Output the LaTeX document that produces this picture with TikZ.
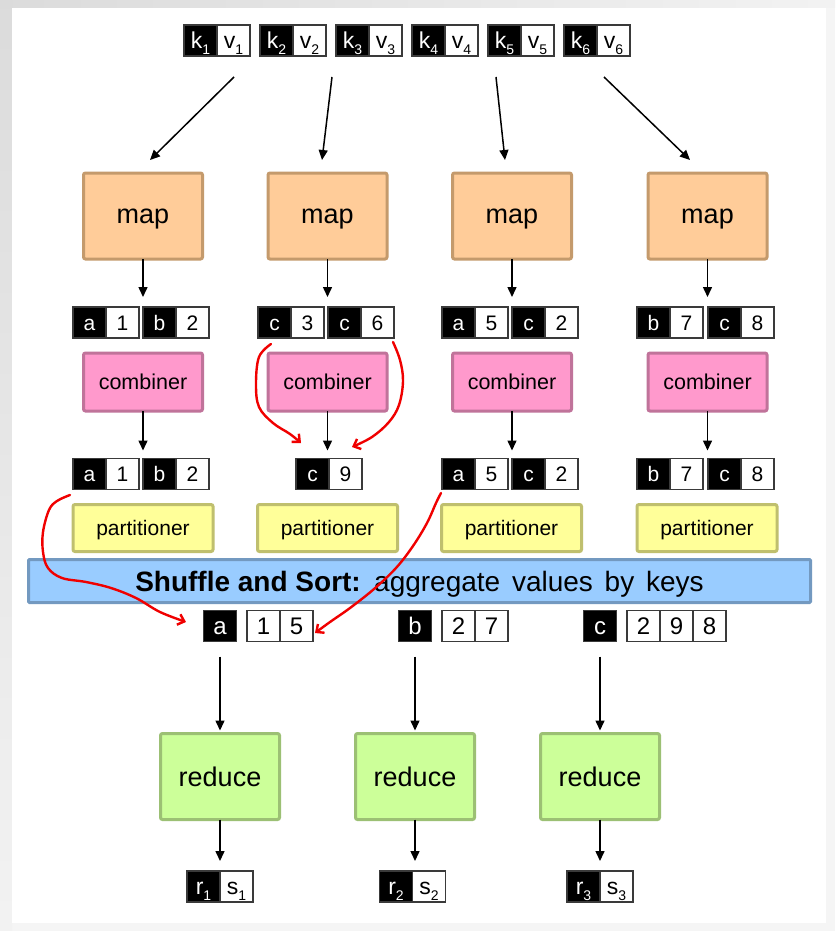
\documentclass[tikz,border=0pt]{standalone}
\usepackage{fontspec}
\setmainfont{Liberation Sans}
\usetikzlibrary{arrows.meta}
\newcommand\myfs[1]{\fontsize{#1}{#1}\selectfont}
\newcommand\subx[1]{\raisebox{-0.25em}{\myfs{14}#1}}
\definecolor{mapfill}{HTML}{FFCC99}\definecolor{mapdraw}{HTML}{C49A6C}
\definecolor{comfill}{HTML}{FF99CC}\definecolor{comdraw}{HTML}{C0739A}
\definecolor{parfill}{HTML}{FFFF99}\definecolor{pardraw}{HTML}{BFBF6E}
\definecolor{shufill}{HTML}{99CCFF}\definecolor{shudraw}{HTML}{7399C0}
\definecolor{redfill}{HTML}{CCFF99}\definecolor{reddraw}{HTML}{9CC074}
\definecolor{celldraw}{HTML}{3A3A3A}
\definecolor{annred}{HTML}{F00000}
\tikzset{
  kc/.style={draw=celldraw, line width=1.2pt, fill=black, text=white, minimum width=33pt, minimum height=31pt, inner sep=0pt, outer sep=0pt},
  vc/.style={draw=celldraw, line width=1.2pt, fill=white, text=black, minimum width=33pt, minimum height=31pt, inner sep=0pt, outer sep=0pt},
  topf/.style={font=\myfs{23}, text height=16.5pt, text depth=0pt},
  pairf/.style={font=\myfs{21}, text height=15pt, text depth=0pt},
  rowf/.style={font=\myfs{24}, text height=17.2pt, text depth=0pt},
  proc/.style={line width=3pt, rounded corners=2pt, inner sep=0pt, outer sep=0pt, text depth=0pt},
  mapbox/.style={proc, fill=mapfill, draw=mapdraw, minimum width=119pt, minimum height=86pt, font=\myfs{27}},
  combox/.style={proc, fill=comfill, draw=comdraw, minimum width=119pt, minimum height=58pt, font=\myfs{21.5}},
  parbox/.style={proc, fill=parfill, draw=pardraw, minimum width=140pt, minimum height=47pt, font=\myfs{21}},
  redbox/.style={proc, fill=redfill, draw=reddraw, minimum width=119pt, minimum height=86pt, font=\myfs{27}},
  arr/.style={draw=black, line width=1.5pt, -{Triangle[length=10pt,width=9pt]}},
  ann/.style={draw=annred, line width=2.4pt, line cap=round, line join=round, -{Straight Barb[length=6pt,width=11pt]}}
}
% name, left x, center y, key, value, text style
\newcommand\kvp[6]{%
  \node[kc,#6,anchor=west] (#1k) at (#2,#3) {#4};
  \node[vc,#6,anchor=west] (#1v) at (#1k.east) {#5};}
\begin{document}
\begin{tikzpicture}[x=1pt,y=-1pt]
\useasboundingbox (0,0) rectangle (835,931);
% frame
\fill[gray!8] (0,0) rectangle (835,931);
\shade[left color=black!14, right color=black!5] (0,0) rectangle (835,8);
\shade[top color=black!14, bottom color=black!5] (0,0) rectangle (12,931);
\fill[white] (12,8) rectangle (826,923);

% input pairs
\kvp{p1}{184}{40.5}{k\subx{1}}{v\subx{1}}{topf}
\kvp{p2}{260}{40.5}{k\subx{2}}{v\subx{2}}{topf}
\kvp{p3}{336}{40.5}{k\subx{3}}{v\subx{3}}{topf}
\kvp{p4}{412}{40.5}{k\subx{4}}{v\subx{4}}{topf}
\kvp{p5}{488}{40.5}{k\subx{5}}{v\subx{5}}{topf}
\kvp{p6}{564}{40.5}{k\subx{6}}{v\subx{6}}{topf}

% maps
\node[mapbox] (map1) at (143,216) {map};
\node[mapbox] (map2) at (327.5,216) {map};
\node[mapbox] (map3) at (512,216) {map};
\node[mapbox] (map4) at (707.5,216) {map};

\coordinate (s1) at (234,77); \coordinate (e1) at (150,160);
\coordinate (s2) at (332,77); \coordinate (e2) at (322,160);
\coordinate (s3) at (496,77); \coordinate (e3) at (505,160);
\coordinate (s4) at (604,77); \coordinate (e4) at (690,160);
\draw[arr] (s1) -- (e1);
\draw[arr] (s2) -- (e2);
\draw[arr] (s3) -- (e3);
\draw[arr] (s4) -- (e4);

% map outputs
\kvp{m1a}{73}{322.5}{a}{1}{pairf}
\kvp{m1b}{143}{322.5}{b}{2}{pairf}
\kvp{m2a}{258}{322.5}{c}{3}{pairf}
\kvp{m2b}{328}{322.5}{c}{6}{pairf}
\kvp{m3a}{442}{322.5}{a}{5}{pairf}
\kvp{m3b}{512}{322.5}{c}{2}{pairf}
\kvp{m4a}{637}{322.5}{b}{7}{pairf}
\kvp{m4b}{708}{322.5}{c}{8}{pairf}

\draw[arr, shorten >=10pt] (map1.south) -- (map1.south |- m1ak.north);
\draw[arr, shorten >=10pt] (map2.south) -- (map2.south |- m2ak.north);
\draw[arr, shorten >=10pt] (map3.south) -- (map3.south |- m3ak.north);
\draw[arr, shorten >=10pt] (map4.south) -- (map4.south |- m4ak.north);

% combiners
\node[combox] (com1) at (143,382) {combiner};
\node[combox] (com2) at (327.5,382) {combiner};
\node[combox] (com3) at (512,382) {combiner};
\node[combox] (com4) at (707.5,382) {combiner};

% combiner outputs
\kvp{c1a}{73}{474}{a}{1}{pairf}
\kvp{c1b}{143}{474}{b}{2}{pairf}
\kvp{c2a}{296}{474}{c}{9}{pairf}
\kvp{c3a}{442}{474}{a}{5}{pairf}
\kvp{c3b}{512}{474}{c}{2}{pairf}
\kvp{c4a}{637}{474}{b}{7}{pairf}
\kvp{c4b}{708}{474}{c}{8}{pairf}

\draw[arr, shorten >=8pt] (com1.south) -- (com1.south |- c1ak.north);
\draw[arr, shorten >=8pt] (com2.south) -- (com2.south |- c2ak.north);
\draw[arr, shorten >=8pt] (com3.south) -- (com3.south |- c3ak.north);
\draw[arr, shorten >=8pt] (com4.south) -- (com4.south |- c4ak.north);

% partitioners
\node[parbox] (par1) at (143,528) {partitioner};
\node[parbox] (par2) at (327.5,528) {partitioner};
\node[parbox] (par3) at (511.5,528) {partitioner};
\node[parbox] (par4) at (707,528) {partitioner};

% shuffle and sort
\node[proc, fill=shufill, draw=shudraw, rounded corners=1pt, minimum width=782pt, minimum height=43pt, font=\myfs{28}] (shuf) at (419.5,581)
  {\textbf{Shuffle and Sort:}\hspace{3pt} aggregate\hspace{4pt} values\hspace{4pt} by\hspace{4pt} keys};

% grouped values
\node[kc,rowf] (ga) at (220,626) {a};
\node[vc,rowf,anchor=west] (ga1) at (247,626) {1};
\node[vc,rowf,anchor=west] (ga2) at (ga1.east) {5};
\node[kc,rowf] (gb) at (415,626) {b};
\node[vc,rowf,anchor=west] (gb1) at (442,626) {2};
\node[vc,rowf,anchor=west] (gb2) at (gb1.east) {7};
\node[kc,rowf] (gc) at (600,626) {c};
\node[vc,rowf,anchor=west] (gc1) at (627,626) {2};
\node[vc,rowf,anchor=west] (gc2) at (gc1.east) {9};
\node[vc,rowf,anchor=west] (gc3) at (gc2.east) {8};

% reducers
\node[redbox] (red1) at (220,776.5) {reduce};
\node[redbox] (red2) at (415,776.5) {reduce};
\node[redbox] (red3) at (600,776.5) {reduce};

\draw[arr, shorten <=15pt, shorten >=3pt] (ga.south) -- (red1.north);
\draw[arr, shorten <=15pt, shorten >=3pt] (gb.south) -- (red2.north);
\draw[arr, shorten <=15pt, shorten >=3pt] (gc.south) -- (red3.north);

% outputs
\kvp{o1}{187}{886.5}{r\subx{1}}{s\subx{1}}{topf}
\kvp{o2}{379.5}{886.5}{r\subx{2}}{s\subx{2}}{topf}
\kvp{o3}{567}{886.5}{r\subx{3}}{s\subx{3}}{topf}

\draw[arr, shorten >=10pt] (red1.south) -- (red1.south |- o1k.north);
\draw[arr, shorten >=10pt] (red2.south) -- (red2.south |- o2k.north);
\draw[arr, shorten >=10pt] (red3.south) -- (red3.south |- o3k.north);

% hand-drawn red annotations
\draw[ann] plot[smooth, tension=0.6] coordinates {(271,344) (259,357) (256,384) (259,407) (273,423) (290,434) (301,443)};
\draw[ann] plot[smooth, tension=0.6] coordinates {(393,342) (400,360) (403,381) (399,405) (389,422) (372,437) (352,447)};
\draw[ann] plot[smooth, tension=0.6] coordinates {(70,495) (57,501) (49,510) (43,532) (43,552) (48,568) (62,578) (86,582) (111,588) (136,598) (160,612) (186,622)};
\draw[ann] plot[smooth, tension=0.6] coordinates {(441,493) (436,503) (427,523) (413,546) (396,568) (374,589) (350,608) (330,622) (315,633)};
\end{tikzpicture}
\end{document}
